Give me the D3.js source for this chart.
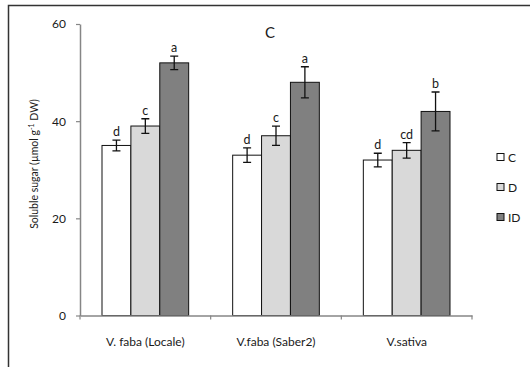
<!DOCTYPE html>
<html lang="en">
  <head>
    <meta charset="utf-8" />
    <title>Soluble sugar</title>
    <script src="https://cdnjs.cloudflare.com/ajax/libs/d3/7.8.5/d3.min.js"></script>
    <style>
      body { margin: 0; background: #fff; }
      svg text { font-family: Lato, "Open Sans", sans-serif; fill: #1a1a1a; }
    </style>
  </head>
  <body>
    <svg id="chart" width="530" height="367"></svg>
    <script>
      // data
      const species = ["V. faba (Locale)", "V.faba (Saber2)", "V.sativa"];
      const treatments = ["C", "D", "ID"];
      const colors = ["#ffffff", "#d9d9d9", "#808080"];
      const means = [
        [35, 39, 52],
        [33, 37, 48],
        [32, 34, 42],
      ];
      const errors = [
        [1.1, 1.5, 1.4],
        [1.5, 2, 3.2],
        [1.4, 1.6, 4],
      ];
      const letters = [
        ["d", "c", "a"],
        ["d", "c", "a"],
        ["d", "cd", "b"],
      ];
      const yTicks = [0, 20, 40, 60];

      const svg = d3.select("#chart");
      const mLeft = 80, mRight = 472, mTop = 24, mBottom = 315.5;

      // outer frame (only top and left edges visible)
      svg.append("path")
        .attr("d", "M8.5,367 V5.5 H530")
        .attr("fill", "none")
        .attr("stroke", "#333")
        .attr("stroke-width", 1.5);

      const x = d3.scaleBand().domain(species).range([mLeft, mRight]);
      const xi = d3.scaleBand().domain(treatments).range([22, x.bandwidth() - 22]);
      const y = d3.scaleLinear().domain([0, 60]).range([mBottom, mTop]);

      // y axis
      const gy = svg.append("g").attr("transform", `translate(${mLeft},0)`)
        .call(d3.axisLeft(y).tickValues(yTicks).tickSize(4).tickSizeOuter(0).tickPadding(10));
      gy.select(".domain").attr("stroke", "#868686").attr("stroke-width", 1.5);
      gy.selectAll(".tick line").attr("stroke", "#868686").attr("stroke-width", 1.2);
      gy.selectAll(".tick text").style("font-size", "12px").attr("fill", "#1a1a1a");

      // bars
      const groups = svg.selectAll("g.grp").data(species).join("g")
        .attr("class", "grp")
        .attr("transform", (d) => `translate(${x(d)},0)`);

      groups.each(function (sp, si) {
        const g = d3.select(this);
        treatments.forEach((t, ti) => {
          const v = means[si][ti], e = errors[si][ti];
          const bx = xi(t), bw = xi.bandwidth(), cx = bx + bw / 2;
          g.append("rect")
            .attr("x", bx).attr("y", y(v))
            .attr("width", bw).attr("height", y(0) - y(v))
            .attr("fill", colors[ti]).attr("stroke", "#111").attr("stroke-width", 1);
          g.append("path")
            .attr("d", `M${cx},${y(v + e)}V${y(v - e)}M${cx - 4},${y(v + e)}H${cx + 4}M${cx - 4},${y(v - e)}H${cx + 4}`)
            .attr("stroke", "#111").attr("stroke-width", 1.3).attr("fill", "none");
          g.append("text")
            .attr("x", cx).attr("y", y(v + e) - 4)
            .attr("text-anchor", "middle")
            .style("font-size", "12.5px")
            .text(letters[si][ti]);
        });
      });

      // x axis
      const gx = svg.append("g").attr("transform", `translate(0,${mBottom})`)
        .call(d3.axisBottom(x).tickSize(0).tickPadding(22));
      gx.select(".domain").attr("stroke", "#868686").attr("stroke-width", 1.5);
      gx.selectAll(".tick text").style("font-size", "12px").attr("fill", "#1a1a1a");
      gx.selectAll("line.sep").data(species.concat(["end"])).join("line")
        .attr("class", "sep")
        .attr("x1", (d) => d === "end" ? mRight : x(d))
        .attr("x2", (d) => d === "end" ? mRight : x(d))
        .attr("y1", 0).attr("y2", 4)
        .attr("stroke", "#868686").attr("stroke-width", 1.2);

      // y axis title
      const yt = svg.append("text")
        .attr("transform", "translate(38,164) rotate(-90)")
        .attr("text-anchor", "middle")
        .style("font-size", "10.5px");
      yt.append("tspan").text("Soluble sugar (µmol g");
      yt.append("tspan").attr("dy", -4).style("font-size", "7px").text("-1");
      yt.append("tspan").attr("dy", 4).text(" DW)");

      // chart title
      svg.append("text")
        .attr("x", 270).attr("y", 38)
        .attr("text-anchor", "middle")
        .style("font-size", "15px")
        .text("C");

      // legend
      const lg = svg.append("g").selectAll("g").data(treatments).join("g")
        .attr("transform", (d, i) => `translate(497,${157 + i * 30})`);
      lg.append("rect")
        .attr("x", 0).attr("y", -3.5).attr("width", 7).attr("height", 7)
        .attr("fill", (d, i) => colors[i]).attr("stroke", "#111").attr("stroke-width", 1);
      lg.append("text")
        .attr("x", 11).attr("y", 4.5)
        .style("font-size", "12px")
        .text((d) => d);
    </script>
  </body>
</html>
